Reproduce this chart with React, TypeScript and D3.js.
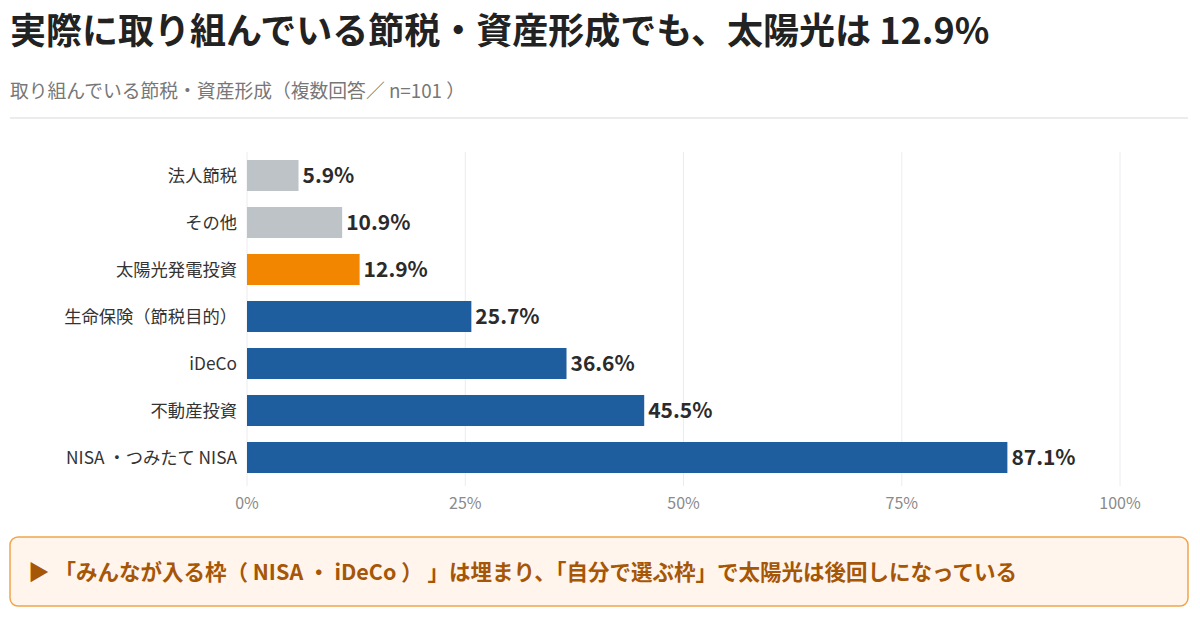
import { useEffect, useRef } from "react";
import * as d3 from "d3";

const CATEGORIES = [
  "法人節税",
  "その他",
  "太陽光発電投資",
  "生命保険（節税目的）",
  "iDeCo",
  "不動産投資",
  "NISA ・つみたて NISA",
];
const VALUES = [5.9, 10.9, 12.9, 25.7, 36.6, 45.5, 87.1];
const BAR_COLORS = ["#bec3c8", "#bec3c8", "#f28600", "#1f5e9e", "#1f5e9e", "#1f5e9e", "#1f5e9e"];
const X_TICKS = [0, 25, 50, 75, 100];

const FONT = "'Noto Sans CJK JP', 'Noto Sans', sans-serif";

export default function App() {
  const svgRef = useRef<SVGSVGElement>(null);

  useEffect(() => {
    if (!svgRef.current) return;
    const svg = d3.select(svgRef.current);
    svg.selectAll("*").remove();

    // Header
    svg.append("text")
      .attr("x", 10).attr("y", 44)
      .attr("fill", "#222")
      .attr("font-size", "36px")
      .attr("font-weight", 700)
      .text("実際に取り組んでいる節税・資産形成でも、太陽光は 12.9%");

    svg.append("text")
      .attr("x", 10).attr("y", 98)
      .attr("fill", "#777")
      .attr("font-size", "18.8px")
      .text("取り組んでいる節税・資産形成（複数回答／ n=101 ）");

    svg.append("line")
      .attr("x1", 10).attr("x2", 1188)
      .attr("y1", 118).attr("y2", 118)
      .attr("stroke", "#e6e6e6").attr("stroke-width", 1.5);

    const x = d3.scaleLinear().domain([0, 100]).range([247, 1120]);
    const y = d3.scaleBand<string>().domain(CATEGORIES).range([152, 481]).paddingInner(0.34).paddingOuter(0.17);

    // Grid
    svg.append("g")
      .selectAll("line")
      .data(X_TICKS)
      .join("line")
      .attr("x1", (d) => x(d)).attr("x2", (d) => x(d))
      .attr("y1", 152).attr("y2", 486)
      .attr("stroke", "#ececf0");

    // Axis tick labels
    svg.append("g")
      .selectAll("text")
      .data(X_TICKS)
      .join("text")
      .attr("x", (d) => x(d))
      .attr("y", 509)
      .attr("text-anchor", "middle")
      .attr("fill", "#8a8a8a")
      .attr("font-size", "16px")
      .text((d) => `${d}%`);

    // Bars
    svg.append("g")
      .selectAll("rect")
      .data(VALUES)
      .join("rect")
      .attr("x", x(0))
      .attr("y", (_, i) => y(CATEGORIES[i])!)
      .attr("width", (d) => x(d) - x(0))
      .attr("height", y.bandwidth())
      .attr("fill", (_, i) => BAR_COLORS[i]);

    // Value labels
    svg.append("g")
      .selectAll("text")
      .data(VALUES)
      .join("text")
      .attr("x", (d) => x(d) + 4)
      .attr("y", (_, i) => y(CATEGORIES[i])! + y.bandwidth() / 2)
      .attr("dy", "0.36em")
      .attr("fill", "#2b2b2b")
      .attr("font-size", "21px")
      .attr("font-weight", 700)
      .text((d) => `${d.toFixed(1)}%`);

    // Category labels
    svg.append("g")
      .selectAll("text")
      .data(CATEGORIES)
      .join("text")
      .attr("x", 237)
      .attr("y", (d) => y(d)! + y.bandwidth() / 2)
      .attr("dy", "0.36em")
      .attr("text-anchor", "end")
      .attr("fill", "#333")
      .attr("font-size", "17.3px")
      .text((d) => d);

    // Callout
    svg.append("rect")
      .attr("x", 10).attr("y", 537)
      .attr("width", 1178).attr("height", 69)
      .attr("rx", 8)
      .attr("fill", "#fff5ec")
      .attr("stroke", "#f0a54a")
      .attr("stroke-width", 1.5);

    svg.append("text")
      .attr("x", 28).attr("y", 580)
      .attr("fill", "#a65607")
      .attr("font-size", "21.5px")
      .attr("font-weight", 700)
      .text("▶ 「みんなが入る枠（ NISA ・ iDeCo ） 」は埋まり、「自分で選ぶ枠」で太陽光は後回しになっている");
  }, []);

  return (
    <svg
      ref={svgRef}
      width={1200}
      height={620}
      style={{ position: "absolute", left: 0, top: 0, background: "#fff", fontFamily: FONT }}
    />
  );
}
